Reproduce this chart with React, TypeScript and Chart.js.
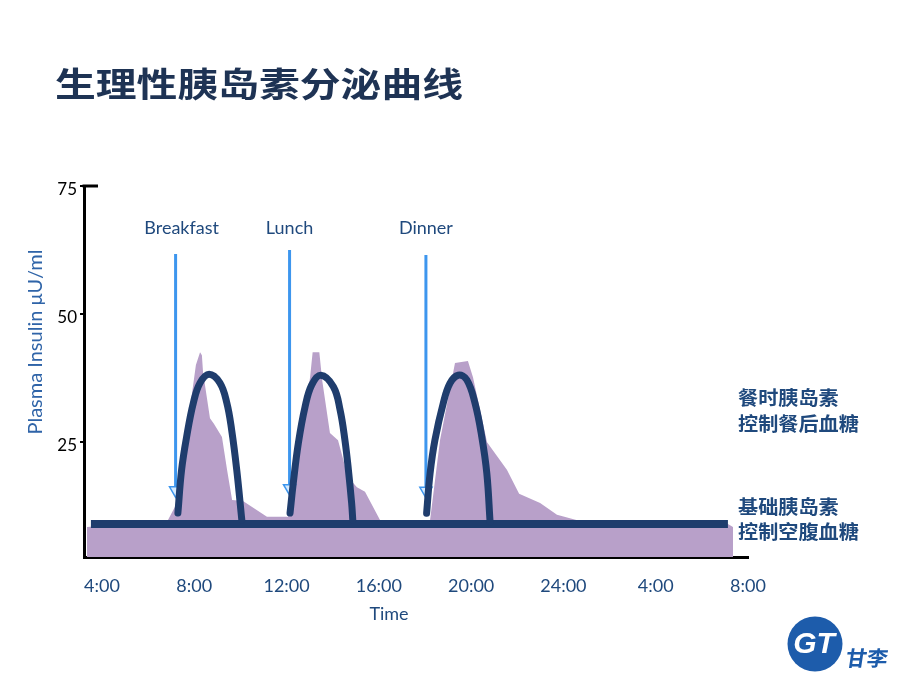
import React, { useEffect, useRef } from 'react';
import { Chart, registerables } from 'chart.js';

Chart.register(...registerables);

// ---- Axis ticks ----
const xTickHours = [4, 8, 12, 16, 20, 24, 28, 32];
const xTickLabels = ['4:00', '8:00', '12:00', '16:00', '20:00', '24:00', '4:00', '8:00'];
const yTickValues = [25, 50, 75];

// ---- Physiological plasma insulin (shaded area) ----
const insulinHours = [3.35, 6.7, 6.86, 7.25, 8.07, 8.25, 8.33, 8.38, 8.68, 8.85, 9.2, 9.42, 9.64, 10.11, 11.15, 12.06, 12.58, 13.02, 13.13, 13.42, 13.54, 13.88, 14.23, 14.66, 15.05, 15.4, 16.05, 17.13, 18.22, 18.65, 19.3, 19.86, 20.08, 20.69, 21.55, 22.08, 22.99, 23.72, 24.72, 31.13, 31.35];
const insulinValues = [8.3, 9.5, 9.7, 13.0, 40.0, 42.5, 41.9, 38.6, 29.6, 28.5, 25.9, 19.5, 13.6, 13.4, 10.3, 10.3, 25.3, 37.6, 42.5, 42.5, 37.1, 26.7, 25.3, 18.1, 16.1, 15.2, 9.7, 9.1, 9.7, 25.3, 40.4, 40.8, 37.6, 24.9, 19.5, 14.8, 13.0, 10.7, 9.5, 8.9, 8.3];

// ---- Basal insulin bar ----
const basalHours = [3.52, 31.13];
const basalValues = [8.9, 8.9];

// ---- Prandial insulin arcs ----
const breakfastArcHours = [7.29, 7.45, 7.67, 7.96, 8.25, 8.64, 9.11, 9.41, 9.62, 9.84, 10.06];
const breakfastArcValues = [11.05, 19.5, 26.0, 32.6, 36.5, 38.2, 36.5, 32.6, 27.3, 19.5, 9.7];
const lunchArcHours = [12.15, 12.29, 12.51, 12.8, 13.09, 13.48, 14.03, 14.32, 14.53, 14.68, 14.82, 14.87];
const lunchArcValues = [11.05, 16.9, 24.7, 31.8, 36.1, 38.0, 35.75, 31.2, 25.3, 19.5, 13.0, 9.7];
const dinnerArcHours = [18.07, 18.22, 18.43, 18.79, 19.08, 19.44, 19.81, 20.17, 20.46, 20.68, 20.82];
const dinnerArcValues = [11.0, 18.8, 25.3, 32.5, 36.4, 38.0, 37.1, 32.5, 26.0, 18.8, 9.35];

// ---- Meals (arrows) ----
const mealNames = ['Breakfast', 'Lunch', 'Dinner'];
const mealHours = [7.19, 12.13, 18.04];
const mealArrowTop = [61.7, 62.5, 61.5];
const mealArrowTip = [15.5, 15.9, 15.4];

// ---- Texts ----
const titleText = '生理性胰岛素分泌曲线';
const yTitleText = 'Plasma Insulin μU/ml';
const xTitleText = 'Time';
const prandialNote = ['餐时胰岛素', '控制餐后血糖'];
const basalNote = ['基础胰岛素', '控制空腹血糖'];
const logoText = '甘李';

const pts = (xs: number[], ys: number[]) => xs.map((x, i) => ({ x, y: ys[i] }));

const NAVY = '#1f3d6d';
const TEXT_BLUE = '#1f497d';
const ARROW = '#3d96ee';

const drawPlugin = {
  id: 'slideDecor',
  afterDraw(chart: any) {
    const ctx = chart.ctx as CanvasRenderingContext2D;
    const xs = chart.scales.x;
    const ys = chart.scales.y;
    const area = chart.chartArea;
    ctx.save();

    // title
    ctx.save();
    ctx.translate(55, 84);
    ctx.scale(1.2, 1);
    ctx.font = 'bold 34px "Noto Sans CJK SC"';
    ctx.fillStyle = '#1e3354';
    ctx.textBaseline = 'middle';
    ctx.textAlign = 'left';
    ctx.fillText(titleText, 0, 0);
    ctx.restore();

    // y axis top cap
    const y75 = ys.getPixelForValue(75);
    ctx.strokeStyle = '#000';
    ctx.lineWidth = 3;
    ctx.beginPath();
    ctx.moveTo(area.left - 1.5, y75);
    ctx.lineTo(area.left + 14, y75);
    ctx.stroke();

    // y title
    ctx.save();
    ctx.translate(36, 342);
    ctx.rotate(-Math.PI / 2);
    ctx.font = '20px Lato';
    ctx.fillStyle = '#2f64a8';
    ctx.textAlign = 'center';
    ctx.textBaseline = 'middle';
    ctx.fillText(yTitleText, 0, 0);
    ctx.restore();

    // x title
    ctx.font = '18px Lato';
    ctx.fillStyle = TEXT_BLUE;
    ctx.textAlign = 'center';
    ctx.textBaseline = 'middle';
    ctx.fillText(xTitleText, 389, 614);

    // meal labels
    mealNames.forEach((n, i) => {
      ctx.fillText(n, xs.getPixelForValue(mealHours[i]) + (i === 0 ? 6 : 0), 228);
    });

    // right-side notes
    ctx.fillStyle = TEXT_BLUE;
    ctx.textAlign = 'left';
    const note = (t: string, y: number) => {
      ctx.save();
      ctx.translate(738, y);
      ctx.scale(1.06, 1);
      ctx.font = 'bold 19px "Noto Sans CJK SC"';
      ctx.fillText(t, 0, 0);
      ctx.restore();
    };
    note(prandialNote[0], 398);
    note(prandialNote[1], 424);
    note(basalNote[0], 507);
    note(basalNote[1], 532);

    // logo
    ctx.fillStyle = '#1d5cab';
    ctx.beginPath();
    ctx.arc(815, 644, 27.5, 0, Math.PI * 2);
    ctx.fill();
    ctx.fillStyle = '#fff';
    ctx.font = 'bold italic 30px "Liberation Sans"';
    ctx.textAlign = 'center';
    ctx.textBaseline = 'middle';
    ctx.fillText('GT', 814, 645);
    ctx.fillStyle = '#1d5cab';
    ctx.textAlign = 'left';
    ctx.save();
    ctx.translate(846, 658);
    ctx.transform(1, 0, -0.15, 1, 0, 0);
    ctx.font = 'bold 21px "Noto Sans CJK SC"';
    ctx.fillText(logoText, 0, 0);
    ctx.restore();

    ctx.restore();
  },
};

export default function App() {
  const ref = useRef<HTMLCanvasElement>(null);

  useEffect(() => {
    document.body.style.margin = '0';
    const canvas = ref.current!;
    const arrowSets = mealHours.map((h, i) => ({
      label: mealNames[i] + ' arrow',
      data: [{ x: h, y: mealArrowTop[i] }, { x: h, y: mealArrowTip[i] }],
      borderColor: ARROW,
      borderWidth: 3,
      pointRadius: [0, 7],
      pointStyle: 'triangle',
      pointRotation: 180,
      pointBackgroundColor: '#d6ebff',
      pointBorderColor: ARROW,
      pointBorderWidth: 1.5,
      fill: false,
      order: 3,
    }));
    const arcStyle = {
      borderColor: NAVY,
      borderWidth: 7,
      borderCapStyle: 'round' as const,
      borderJoinStyle: 'round' as const,
      tension: 0.4,
      pointRadius: 0,
      fill: false,
      order: 1,
    };
    const chart = new Chart(canvas, {
      type: 'line',
      data: {
        datasets: [
          {
            label: 'Plasma insulin',
            data: pts(insulinHours, insulinValues),
            backgroundColor: '#b8a0c9',
            borderColor: 'rgba(0,0,0,0)',
            borderWidth: 0,
            pointRadius: 0,
            tension: 0,
            fill: 'start',
            order: 4,
          },
          ...arrowSets,
          {
            label: 'Basal',
            data: pts(basalHours, basalValues),
            borderColor: NAVY,
            borderWidth: 8,
            borderCapStyle: 'butt',
            pointRadius: 0,
            fill: false,
            order: 2,
          },
          { label: 'Breakfast bolus', data: pts(breakfastArcHours, breakfastArcValues), ...arcStyle },
          { label: 'Lunch bolus', data: pts(lunchArcHours, lunchArcValues), ...arcStyle },
          { label: 'Dinner bolus', data: pts(dinnerArcHours, dinnerArcValues), ...arcStyle },
        ] as any,
      },
      options: {
        animation: false,
        responsive: false,
        devicePixelRatio: 1,
        events: [],
        layout: { padding: { top: 186, right: 172, bottom: 65.2, left: 0 } },
        plugins: {
          legend: { display: false },
          tooltip: { enabled: false },
          title: { display: false },
        },
        scales: {
          x: {
            type: 'linear',
            min: 3.22,
            max: 32,
            afterBuildTicks: (s: any) => {
              s.ticks = xTickHours.map((v) => ({ value: v }));
            },
            afterFit: (s: any) => {
              s.height = 67.8;
            },
            grid: { display: false },
            border: { display: true, color: '#000', width: 3 },
            ticks: {
              autoSkip: false,
              maxRotation: 0,
              padding: 10,
              color: TEXT_BLUE,
              font: { family: 'Lato', size: 18 },
              callback: (_v: any, i: number) => xTickLabels[i],
            },
            title: { display: false },
          },
          y: {
            type: 'linear',
            min: 2.45,
            max: 75,
            afterBuildTicks: (s: any) => {
              s.ticks = yTickValues.map((v) => ({ value: v }));
            },
            afterFit: (s: any) => {
              s.width = 84;
            },
            grid: {
              display: true,
              drawOnChartArea: false,
              drawTicks: true,
              tickLength: 4,
              color: '#000',
              lineWidth: 2,
            },
            border: { display: true, color: '#000', width: 3 },
            ticks: { padding: 3, labelOffset: 4, color: '#000', font: { family: 'Lato', size: 17 } },
          },
        },
      } as any,
      plugins: [drawPlugin],
    });
    return () => chart.destroy();
  }, []);

  return (
    <div style={{ position: 'fixed', left: 0, top: 0, width: 920, height: 690, background: '#fff' }}>
      <canvas ref={ref} width={920} height={690} style={{ display: 'block', width: 920, height: 690 }} />
    </div>
  );
}
